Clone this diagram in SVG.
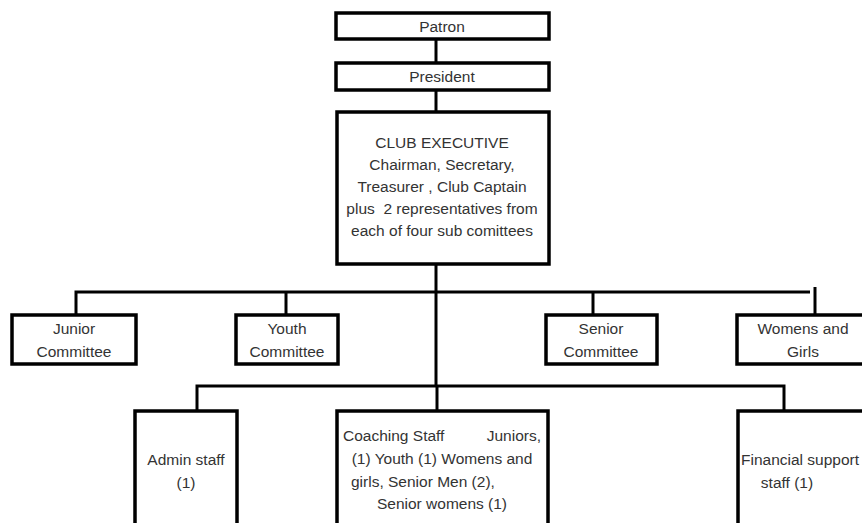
<svg xmlns="http://www.w3.org/2000/svg" width="862" height="523" viewBox="0 0 862 523">
<style>
.box{fill:#fff;stroke:#000;stroke-width:3.5}
.ln{fill:none;stroke:#000;stroke-width:3}
text{font-family:"Liberation Sans",Arial,sans-serif;font-size:15.5px;fill:#333;text-anchor:middle;white-space:pre}
.l{text-anchor:start}
</style>
<rect width="862" height="523" fill="#fff"/>
<g id="connectors">
<line class="ln" x1="436" y1="39" x2="436" y2="63"/>
<line class="ln" x1="436" y1="90" x2="436" y2="112"/>
<line class="ln" x1="436" y1="264" x2="436" y2="387"/>
<polyline class="ln" points="76,315 76,292 810,292"/>
<line class="ln" x1="286" y1="292" x2="286" y2="315"/>
<line class="ln" x1="593" y1="292" x2="593" y2="315"/>
<line class="ln" x1="815" y1="287" x2="815" y2="315"/>
<polyline class="ln" points="197,411 197,386 784,386 784,411"/>
<line class="ln" x1="437" y1="386" x2="437" y2="411"/>
</g>
<g id="patron"><rect class="box" x="336" y="13" width="213" height="26"/><text x="442" y="32">Patron</text></g>
<g id="president"><rect class="box" x="336" y="63" width="213" height="27"/><text x="442" y="82">President</text></g>
<g id="executive"><rect class="box" x="337" y="112" width="212" height="152"/>
<text x="442" y="148">CLUB EXECUTIVE</text>
<text x="442" y="170">Chairman, Secretary,</text>
<text x="442" y="192">Treasurer , Club Captain</text>
<text x="442" y="214" xml:space="preserve">plus  2 representatives from</text>
<text x="442" y="236">each of four sub comittees</text></g>
<g id="junior"><rect class="box" x="12" y="315" width="124" height="49"/><text x="74" y="334">Junior</text><text x="74" y="357">Committee</text></g>
<g id="youth"><rect class="box" x="236" y="315" width="102" height="49"/><text x="287" y="334">Youth</text><text x="287" y="357">Committee</text></g>
<g id="senior"><rect class="box" x="546" y="315" width="111" height="49"/><text x="601" y="334">Senior</text><text x="601" y="357">Committee</text></g>
<g id="womens"><rect class="box" x="737" y="315" width="140" height="49"/><text x="803" y="334">Womens and</text><text x="803" y="357">Girls</text></g>
<g id="admin"><rect class="box" x="135" y="411" width="102" height="130"/><text x="186" y="465">Admin staff</text><text x="186" y="488">(1)</text></g>
<g id="coaching"><rect class="box" x="337" y="411" width="211" height="130"/>
<text class="l" x="343" y="441">Coaching Staff</text><text x="541" y="441" style="text-anchor:end">Juniors,</text>
<text x="442" y="464">(1) Youth (1) Womens and</text>
<text class="l" x="351" y="487">girls, Senior Men (2),</text>
<text x="442" y="509">Senior womens (1)</text></g>
<g id="financial"><rect class="box" x="738" y="411" width="140" height="130"/><text class="l" x="741" y="465">Financial support</text><text x="787" y="488">staff (1)</text></g>
</svg>
